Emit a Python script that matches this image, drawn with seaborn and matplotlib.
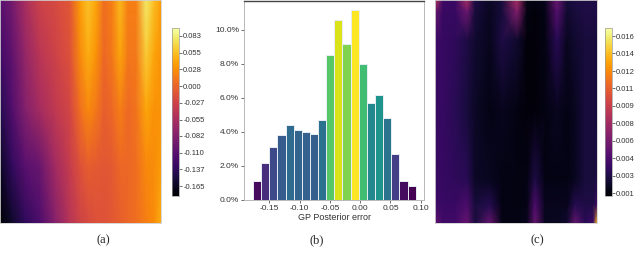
import numpy as np
import pandas as pd
import matplotlib
matplotlib.use("Agg")
import matplotlib.pyplot as plt
import matplotlib.ticker as mticker
import seaborn as sns

# (b) histogram of GP posterior error, percent per bin
bin_lo, bin_hi = -0.177, 0.0917
bin_pct = [1.1, 2.2, 3.1, 3.8, 4.4, 4.1, 4.0, 3.9, 4.7, 8.5,
           10.6, 9.2, 11.2, 8.0, 5.7, 6.2, 4.8, 2.7, 1.1, 0.8]

# (a) posterior mean surface, read on a coarse grid (top row first)
a_cols = [0, 12, 25, 40, 55, 70, 80, 88, 96, 104, 112, 120, 128, 136, 146, 154, 161]
a_rows = [0, 55, 110, 165, 223]
a_vals = [
    [-0.111, -0.092, -0.056, -0.029, -0.021, -0.010, 0.035, 0.057, 0.040, 0.007, 0.018, 0.051, 0.018, 0.018, 0.079, 0.054, 0.035],
    [-0.125, -0.106, -0.070, -0.043, -0.029, -0.015, 0.024, 0.046, 0.029, 0.002, 0.013, 0.040, 0.013, 0.013, 0.062, 0.040, 0.029],
    [-0.144, -0.115, -0.082, -0.058, -0.040, -0.025, 0.007, 0.024, 0.013, -0.004, 0.002, 0.018, 0.004, 0.010, 0.040, 0.029, 0.029],
    [-0.163, -0.135, -0.110, -0.098, -0.060, -0.034, -0.015, -0.004, -0.007, -0.010, -0.007, 0.002, 0.002, 0.007, 0.024, 0.026, 0.035],
    [-0.180, -0.160, -0.137, -0.118, -0.080, -0.045, -0.029, -0.021, -0.015, -0.015, -0.010, -0.004, 0.002, 0.007, 0.018, 0.026, 0.046],
]
a_ticks = [-0.165, -0.137, -0.110, -0.082, -0.055, -0.027, 0.000, 0.028, 0.055, 0.083]
a_labels = ["-0.165", "-0.137", "-0.110", "-0.082", "-0.055", "-0.027", "0.000", "0.028", "0.055", "0.083"]

# (c) posterior variance surface
c_cols = [0, 8, 20, 32, 40, 55, 67, 82, 92, 100, 110, 122, 132, 140, 150, 158, 162]
c_rows = [0, 12, 40, 110, 180, 205, 223]
c_vals = [
    [0.0087, 0.0040, 0.0037, 0.0079, 0.0028, 0.0020, 0.0025, 0.0079, 0.0015, 0.0014, 0.0017, 0.0056, 0.0025, 0.0028, 0.0028, 0.0028, 0.0028],
    [0.0056, 0.0037, 0.0036, 0.0056, 0.0025, 0.0018, 0.0025, 0.0064, 0.0014, 0.0012, 0.0015, 0.0048, 0.0022, 0.0025, 0.0028, 0.0028, 0.0028],
    [0.0040, 0.0036, 0.0034, 0.0028, 0.0022, 0.0017, 0.0028, 0.0022, 0.0012, 0.0012, 0.0014, 0.0032, 0.0018, 0.0022, 0.0025, 0.0025, 0.0025],
    [0.0037, 0.0036, 0.0032, 0.0025, 0.0020, 0.0015, 0.0017, 0.0014, 0.0012, 0.0012, 0.0014, 0.0018, 0.0015, 0.0018, 0.0025, 0.0025, 0.0025],
    [0.0037, 0.0036, 0.0034, 0.0032, 0.0020, 0.0018, 0.0015, 0.0014, 0.0014, 0.0028, 0.0015, 0.0015, 0.0015, 0.0018, 0.0025, 0.0025, 0.0028],
    [0.0040, 0.0037, 0.0037, 0.0044, 0.0025, 0.0030, 0.0015, 0.0014, 0.0015, 0.0044, 0.0017, 0.0017, 0.0017, 0.0030, 0.0028, 0.0028, 0.0040],
    [0.0052, 0.0040, 0.0040, 0.0054, 0.0025, 0.0054, 0.0015, 0.0014, 0.0017, 0.0054, 0.0018, 0.0018, 0.0022, 0.0054, 0.0032, 0.0040, 0.0142],
]
c_ticks = [0.00115, 0.00278, 0.00442, 0.00605, 0.00768, 0.00932, 0.01095, 0.01258, 0.01422, 0.01585]
c_labels = ["0.001", "0.003", "0.004", "0.006", "0.008", "0.009", "0.011", "0.012", "0.014", "0.016"]

sns.set_style("white")
plt.rcParams["font.family"] = ["Liberation Sans", "DejaVu Sans"]

fig = plt.figure(figsize=(6.4, 2.57), dpi=100)


def surface(rect, cbar_rect, cols, rows, vals, vmin, vmax, ticks, labels):
    ax = fig.add_axes(rect)
    mesh = ax.pcolormesh(cols, rows, np.array(vals), shading="gouraud",
                         cmap="inferno", vmin=vmin, vmax=vmax)
    ax.set_xlim(cols[0], cols[-1])
    ax.set_ylim(rows[-1], rows[0])
    ax.set_xticks([])
    ax.set_yticks([])
    for s in ax.spines.values():
        s.set_color("#d0d0d0")
        s.set_linewidth(0.6)
    cax = fig.add_axes(cbar_rect)
    cb = fig.colorbar(mesh, cax=cax)
    cb.set_ticks(ticks)
    cb.set_ticklabels(labels)
    cb.outline.set_edgecolor("#999999")
    cb.outline.set_linewidth(0.5)
    cax.tick_params(labelsize=5.5, length=2, width=0.5, pad=1, colors="#333333")
    return ax


surface([0, 0.1323, 0.2516, 0.8677], [0.2688, 0.2374, 0.0109, 0.6537],
        a_cols, a_rows, a_vals, -0.181, 0.096, a_ticks, a_labels)
surface([0.6797, 0.1323, 0.2531, 0.8677], [0.9453, 0.2374, 0.0109, 0.6537],
        c_cols, c_rows, c_vals, 0.0009, 0.0166, c_ticks, c_labels)

# histogram
axb = fig.add_axes([0.3813, 0.2218, 0.2813, 0.7743])
edges = np.linspace(bin_lo, bin_hi, len(bin_pct) + 1)
hist_df = pd.DataFrame({"err": (edges[:-1] + edges[1:]) / 2, "pct": bin_pct})
sns.histplot(data=hist_df, x="err", weights="pct", bins=edges.tolist(), ax=axb,
             edgecolor="#e8eef4", linewidth=0.7, alpha=1)
norm = plt.Normalize(min(bin_pct), max(bin_pct))
cmap = plt.get_cmap("viridis")
for patch, h in zip(axb.patches, bin_pct):
    patch.set_facecolor(cmap(norm(h)))
axb.set_xlim(-0.1918, 0.1055)
axb.set_ylim(0, 11.7)
axb.set_xticks([-0.15, -0.10, -0.05, 0.00, 0.05, 0.10])
axb.xaxis.set_major_formatter(mticker.FormatStrFormatter("%.2f"))
axb.set_yticks([0, 2, 4, 6, 8, 10])
axb.yaxis.set_major_formatter(mticker.FuncFormatter(lambda v, p: f"{v:.1f}%"))
axb.set_ylabel("")
axb.set_xlabel("GP Posterior error", fontsize=6.5, labelpad=1, color="#333333")
axb.tick_params(labelsize=6, length=2, width=0.5, pad=1.5, colors="#333333",
                left=True, bottom=True)
for side in ["left", "right", "bottom"]:
    axb.spines[side].set_color("#b8b8b8")
    axb.spines[side].set_linewidth(0.7)
axb.spines["top"].set_color("#444444")
axb.spines["top"].set_linewidth(1.0)

for x, t in [(0.161, "(a)"), (0.495, "(b)"), (0.839, "(c)")]:
    fig.text(x, 0.066, t, ha="center", va="center", fontsize=9,
             family=["Liberation Serif", "DejaVu Serif"])

fig.savefig("out.png", dpi=100)
